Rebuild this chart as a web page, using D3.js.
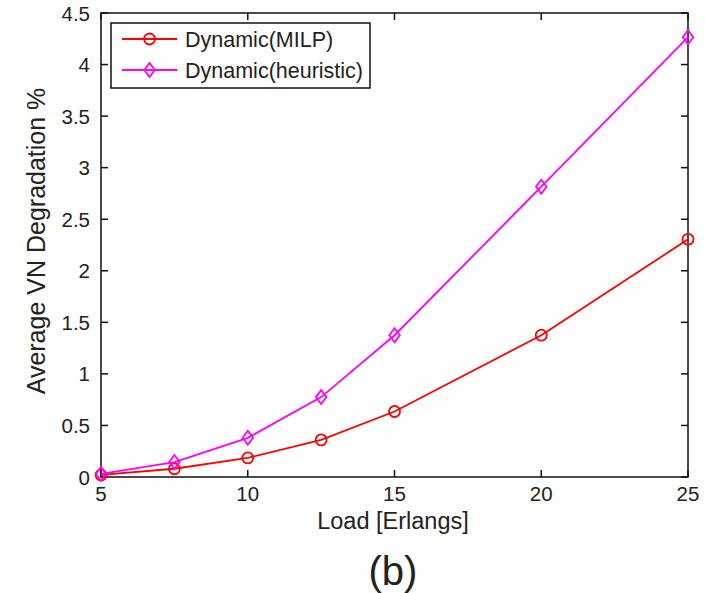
<!DOCTYPE html>
<html>
<head>
<meta charset="utf-8">
<script src="https://cdn.jsdelivr.net/npm/d3@7"></script>
<style>
  body { margin: 0; background: #fff; }
  text { font-family: "Liberation Sans", Arial, sans-serif; fill: #222; }
</style>
</head>
<body>
<div id="chart"></div>
<script>
// data
const loads = [5, 7.5, 10, 12.5, 15, 20, 25];
const milp = [0.02, 0.08, 0.185, 0.36, 0.635, 1.375, 2.305];
const heuristic = [0.03, 0.145, 0.38, 0.775, 1.375, 2.815, 4.265];
const xTicks = [5, 10, 15, 20, 25];
const yTicks = [0, 0.5, 1, 1.5, 2, 2.5, 3, 3.5, 4, 4.5];

const width = 705, height = 593;
const margin = {top: 13, right: 17, bottom: 116, left: 101};

const svg = d3.select("#chart").append("svg")
    .attr("width", width)
    .attr("height", height);

const x = d3.scaleLinear([5, 25], [margin.left, width - margin.right]);
const y = d3.scaleLinear([0, 4.5], [height - margin.bottom, margin.top]);

const fmt = d => String(d);
const tick = 7;

// frame with inward ticks on all four sides
const axes = svg.append("g").attr("stroke", "#111").attr("stroke-width", 1.5);
axes.append("rect")
    .attr("x", x(5)).attr("y", y(4.5))
    .attr("width", x(25) - x(5)).attr("height", y(0) - y(4.5))
    .attr("fill", "none");

xTicks.forEach(t => {
    axes.append("line").attr("x1", x(t)).attr("x2", x(t)).attr("y1", y(0)).attr("y2", y(0) - tick);
    axes.append("line").attr("x1", x(t)).attr("x2", x(t)).attr("y1", y(4.5)).attr("y2", y(4.5) + tick);
});
yTicks.forEach(t => {
    axes.append("line").attr("y1", y(t)).attr("y2", y(t)).attr("x1", x(5)).attr("x2", x(5) + tick);
    axes.append("line").attr("y1", y(t)).attr("y2", y(t)).attr("x1", x(25)).attr("x2", x(25) - tick);
});

svg.append("g").selectAll("text")
    .data(xTicks)
    .join("text")
    .attr("x", d => x(d))
    .attr("y", y(0) + 24)
    .attr("text-anchor", "middle")
    .attr("font-size", 20.5)
    .text(fmt);

svg.append("g").selectAll("text")
    .data(yTicks)
    .join("text")
    .attr("x", x(5) - 11)
    .attr("y", d => y(d) + 7.5)
    .attr("text-anchor", "end")
    .attr("font-size", 20.5)
    .text(fmt);

svg.append("text")
    .attr("x", 393)
    .attr("y", 529)
    .attr("text-anchor", "middle")
    .attr("font-size", 23.5)
    .text("Load [Erlangs]");

svg.append("text")
    .attr("transform", `translate(45,${(y(0) + y(4.5)) / 2 - 4}) rotate(-90)`)
    .attr("text-anchor", "middle")
    .attr("font-size", 25)
    .text("Average VN Degradation %");

svg.append("text")
    .attr("x", 393)
    .attr("y", 585)
    .attr("text-anchor", "middle")
    .attr("font-size", 40)
    .attr("fill", "#000")
    .text("(b)");

// series
const series = [
    {name: "Dynamic(MILP)", values: milp, color: "#ff0000", marker: "circle"},
    {name: "Dynamic(heuristic)", values: heuristic, color: "#ff00ff", marker: "diamond"}
];

const line = d3.line().x(d => x(d[0])).y(d => y(d[1]));

function drawMarker(g, type, cx, cy, color) {
    if (type === "circle") {
        g.append("circle").attr("cx", cx).attr("cy", cy).attr("r", 5.5)
            .attr("fill", "none").attr("stroke", color).attr("stroke-width", 1.8);
    } else {
        const s = 7;
        g.append("path")
            .attr("d", `M${cx},${cy - s}L${cx + s * 0.75},${cy}L${cx},${cy + s}L${cx - s * 0.75},${cy}Z`)
            .attr("fill", "none").attr("stroke", color).attr("stroke-width", 1.8);
    }
}

series.forEach(s => {
    const pts = loads.map((l, i) => [l, s.values[i]]);
    const g = svg.append("g");
    g.append("path").attr("d", line(pts))
        .attr("fill", "none").attr("stroke", s.color).attr("stroke-width", 1.8);
    pts.forEach(p => drawMarker(g, s.marker, x(p[0]), y(p[1]), s.color));
});

// legend
const lg = svg.append("g");
lg.append("rect")
    .attr("x", 111).attr("y", 23).attr("width", 259).attr("height", 65)
    .attr("fill", "#fff").attr("stroke", "#111").attr("stroke-width", 1.5);
series.forEach((s, i) => {
    const cy = 39 + i * 31;
    lg.append("line").attr("x1", 122).attr("x2", 177).attr("y1", cy).attr("y2", cy)
        .attr("stroke", s.color).attr("stroke-width", 1.8);
    drawMarker(lg, s.marker, 149.5, cy, s.color);
    lg.append("text").attr("x", 185).attr("y", cy + 8)
        .attr("font-size", 21.5).text(s.name);
});
</script>
</body>
</html>
